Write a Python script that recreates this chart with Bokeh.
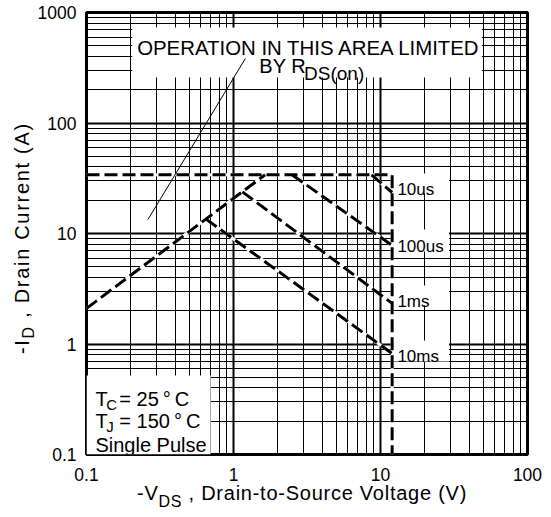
import math
from bokeh.plotting import figure
from bokeh.layouts import column, row
from bokeh.models import FixedTicker, Label, BoxAnnotation, CustomJSTickFormatter, Div
from bokeh.embed import file_html
from bokeh.resources import INLINE

# ---------------- data ----------------
x_ticks = [0.1, 1, 10, 100]
x_tick_labels = ["0.1", "1", "10", "100"]
y_ticks = [0.1, 1, 10, 100, 1000]
y_tick_labels = ["0.1", "1", "10", "100", "1000"]

# current limit (top) and voltage limit (right)
limit_v = [0.1, 12, 12]
limit_i = [34, 34, 0.1]
# RDS(on) limited rising line
rds_v = [0.1, 1.64]
rds_i = [2.1, 34]
# pulse-width lines
us10_v = [8.7, 12]
us10_i = [34, 23.5]
us100_v = [2.5, 12]
us100_i = [34, 7.8]
ms1_v = [1.15, 12]
ms1_i = [23.8, 2.33]
ms10_v = [0.65, 12]
ms10_i = [13.5, 0.82]
# thin pointer line to the annotation
pointer_v = [0.262, 1.205]
pointer_i = [13.4, 384]

curve_labels = ["10us", "100us", "1ms", "10ms"]

# ---------------- layout (page px) ----------------
W, H = 551, 517
YT_W = 34          # width of the y-title strip
FIG_H = 489        # height of the figure (x-title strip below)
X0, X1, Y0, Y1 = 83, 527, 12, 454   # frame in page px


def px_x(px):
    return 10 ** (-1 + 3 * (px - X0) / (X1 - X0))


def px_y(py):
    return 10 ** (3 - 4 * (py - Y0) / (Y1 - Y0))


p = figure(width=W - YT_W, height=FIG_H, x_axis_type="log", y_axis_type="log",
           x_range=(0.1, 100), y_range=(0.1, 1000),
           output_backend="svg", toolbar_location=None,
           min_border_left=X0 - YT_W, min_border_right=W - X1,
           min_border_top=Y0, min_border_bottom=FIG_H - Y1)

x_minor = [k * 10 ** e for e in range(-1, 2) for k in range(2, 10)]
y_minor = [k * 10 ** e for e in range(-1, 3) for k in range(2, 10)]
p.xaxis.ticker = FixedTicker(ticks=x_ticks, minor_ticks=x_minor)
p.yaxis.ticker = FixedTicker(ticks=y_ticks, minor_ticks=y_minor)

code = """
const i = tv.findIndex((t) => Math.abs(Math.log10(t) - Math.log10(tick)) < 1e-6);
return i >= 0 ? tl[i] : "";
"""
p.xaxis.formatter = CustomJSTickFormatter(args=dict(tv=x_ticks, tl=x_tick_labels), code=code)
p.yaxis.formatter = CustomJSTickFormatter(args=dict(tv=y_ticks, tl=y_tick_labels), code=code)

for ax in (p.xaxis[0], p.yaxis[0]):
    ax.axis_line_color = None
    ax.major_tick_line_color = None
    ax.minor_tick_line_color = None
    ax.major_tick_out = 0
    ax.major_tick_in = 0
    ax.minor_tick_out = 0
    ax.minor_tick_in = 0
    ax.major_label_text_font = "Liberation Sans"
    ax.major_label_text_font_size = "17.5px"
    ax.major_label_text_color = "black"
p.xaxis.major_label_standoff = 13
p.yaxis.major_label_standoff = 10

for g in (p.xgrid[0], p.ygrid[0]):
    g.grid_line_color = "black"
    g.grid_line_width = 2
    g.grid_line_alpha = 1
    g.minor_grid_line_color = "black"
    g.minor_grid_line_width = 1
    g.minor_grid_line_alpha = 1

p.outline_line_color = "black"
p.outline_line_width = 3
p.background_fill_color = "white"
p.border_fill_color = "white"


# white boxes behind the texts (hide the grid)
def white_box(l, r, t, b):
    p.add_layout(BoxAnnotation(left=px_x(l), right=px_x(r), top=px_y(t), bottom=px_y(b),
                               fill_color="white", fill_alpha=1, line_color=None,
                               level="underlay"))


white_box(129, 481, 27, 77)
white_box(83, 208, 375, 454)
white_box(392, 448, 173, 193)
white_box(392, 448, 229, 251)
white_box(392, 448, 285, 305)
white_box(392, 448, 340, 361)

# curves
curves = [(limit_v, limit_i), (rds_v, rds_i), (us10_v, us10_i), (us100_v, us100_i),
          (ms1_v, ms1_i), (ms10_v, ms10_i)]
for xs, ys in curves:
    p.line(xs, ys, line_color="white", line_width=3)
for xs, ys in curves:
    p.line(xs, ys, line_color="black", line_width=3, line_dash="13 5")

p.line(pointer_v, pointer_i, line_color="black", line_width=1)


# texts inside the frame
def txt(x, y, text, size, font="Liberation Sans"):
    p.add_layout(Label(x=px_x(x), y=px_y(y), text=text,
                       text_font=font, text_font_size=f"{size}px", text_color="black",
                       text_align="left", text_baseline="alphabetic"))


txt(134, 47, "OPERATION IN THIS AREA LIMITED", 20.4)
txt(257, 65, "BY R", 20)
txt(302, 73, "DS(on)", 19)

txt(92, 398, "T", 20)
txt(103, 404, "C", 15)
txt(116, 398, "= 25\u2009°\u2009C", 20)
txt(92, 420, "T", 20)
txt(103, 426, "J", 15)
txt(116, 420, "= 150\u2009°\u2009C", 20)
txt(92, 444, "Single Pulse", 20)

for lab, yb in zip(curve_labels, [189, 246, 301, 356]):
    txt(396, yb, lab, 17)

# axis titles (HTML, with real subscripts)
BASE = "font-family:'Liberation Sans',Arial,sans-serif; font-size:20px; line-height:20px; color:black; white-space:nowrap;"
SUB = "font-size:16px; line-height:0;"
x_top = 500 - FIG_H - 17   # baseline at page y = 500

x_title_html = (
    '<div style="position:relative;width:0;height:0">'
    f'<div style="position:absolute; left:137px; top:{x_top}px; letter-spacing:0.75px; {BASE}">'
    f'-V<sub style="{SUB} vertical-align:-7px;">DS</sub> , Drain-to-Source Voltage (V)</div></div>'
)
y_title_html = (
    '<div style="position:relative;width:0;height:0">'
    f'<div style="position:absolute; left:12px; top:354px; transform-origin:0 0; '
    f'transform:rotate(-90deg); letter-spacing:1.7px; {BASE}">'
    f'-I<sub style="{SUB} vertical-align:-5px;">D</sub> , Drain Current (A)</div></div>'
)

div_styles = {"font-size": "0px", "line-height": "0px", "overflow": "visible"}
div_y = Div(text=y_title_html, width=YT_W, height=FIG_H, margin=0, styles=div_styles)
div_x = Div(text=x_title_html, width=W, height=H - FIG_H, margin=0, styles=div_styles)

layout = column(row(div_y, p, spacing=0), div_x, spacing=0)

open("out.html", "w").write(file_html(layout, INLINE))
